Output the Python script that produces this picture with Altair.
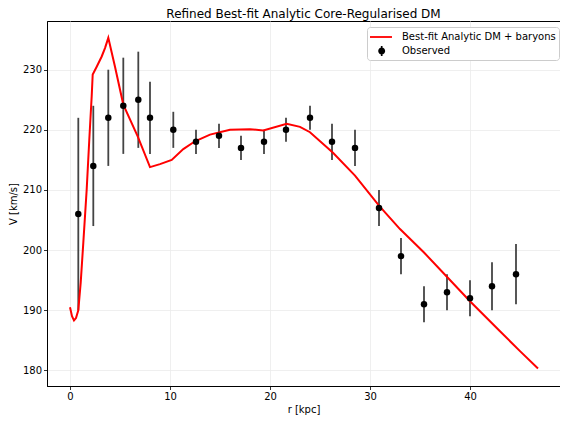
import altair as alt
import pandas as pd

# Observed rotation curve
r_obs = [0.83, 2.33, 3.83, 5.33, 6.83, 8.0, 10.33, 12.6, 14.9, 17.1, 19.4,
         21.6, 24.0, 26.2, 28.5, 30.9, 33.1, 35.4, 37.7, 40.0, 42.2, 44.6]
v_obs = [206, 214, 222, 224, 225, 222, 220, 218, 219, 217, 218,
         220, 222, 218, 217, 207, 199, 191, 193, 192, 194, 196]
v_err = [16, 10, 8, 8, 8, 6, 3, 2, 2, 2, 2,
         2, 2, 3, 3, 3, 3, 3, 3, 3, 4, 5]

# Best-fit model curve
r_model = [0, 0.2, 0.4, 0.6, 0.83, 1.07, 1.33, 1.67, 1.93, 2.17, 2.27, 2.67,
           3.17, 3.5, 3.83, 4.5, 5.33, 6.77, 8.0, 9.0, 10.17, 11.33, 12.5,
           14.0, 16.0, 18.0, 19.33, 21.67, 23.0, 24.0, 26.3, 28.5, 30.9,
           33.0, 35.4, 37.5, 40.0, 43.0, 45.0, 46.8]
v_model = [190.5, 189.0, 188.3, 188.7, 190.0, 194.6, 201.2, 210.1, 218.4,
           225.6, 229.2, 230.5, 232.2, 233.6, 235.3, 230.5, 224.2, 218.9,
           213.8, 214.3, 215.0, 216.8, 218.1, 219.2, 220.0, 220.1, 219.9,
           221.0, 220.5, 219.6, 216.2, 212.4, 207.4, 203.5, 199.6, 195.9,
           191.5, 186.5, 183.2, 180.3]

series_names = ["Best-fit Analytic DM + baryons", "Observed"]
series_colors = ["red", "black"]

obs = pd.DataFrame({"r": r_obs, "v": v_obs, "err": v_err})
obs["lo"] = obs["v"] - obs["err"]
obs["hi"] = obs["v"] + obs["err"]
obs["series"] = "Observed"
model = pd.DataFrame({"r": r_model, "v": v_model})

FONT = "DejaVu Sans"
x_scale = alt.Scale(domain=[-2.3, 49.0], nice=False, zero=False)
y_scale = alt.Scale(domain=[177.4, 238.1], nice=False, zero=False)

x_enc = alt.X("r:Q", scale=x_scale, title="r [kpc]",
              axis=alt.Axis(values=[0, 10, 20, 30, 40], titlePadding=3))
y_enc = alt.Y("v:Q", scale=y_scale, title="V [km/s]",
              axis=alt.Axis(values=[180, 190, 200, 210, 220, 230], titlePadding=4))

line_path = "M-1,-0.13H2.14V0.13H-1Z"
obs_path = ("M0.17,0A0.5,0.5 0 1,1 1.17,0A0.5,0.5 0 1,1 0.17,0Z"
            "M0.55,-0.72H0.79V-0.4H0.55Z M0.55,0.4H0.79V0.72H0.55Z")

legend = alt.Legend(orient="none", legendX=320, legendY=6, title=None, padding=3,
                    strokeColor="#cccccc", fillColor="white", cornerRadius=3,
                    labelFontSize=10, labelFont=FONT, labelColor="black",
                    symbolSize=196, labelOffset=18, rowPadding=2,
                    symbolStrokeWidth=0, symbolOpacity=1)

bars = alt.Chart(obs).mark_rule(color="#444444", strokeWidth=1.8).encode(
    x=x_enc, y=alt.Y("lo:Q", scale=y_scale), y2="hi:Q")

line = alt.Chart(model).mark_line(color="red", strokeWidth=2).encode(
    x=x_enc, y=y_enc)

points = alt.Chart(obs).mark_point(filled=True, size=42, opacity=1,
                                   color="black", shape="circle").encode(
    x=x_enc, y=y_enc)

# invisible layer carrying the legend
legend_layer = alt.Chart(obs).mark_point(filled=True, opacity=0).encode(
    x=x_enc, y=y_enc,
    color=alt.Color("series:N",
                    scale=alt.Scale(domain=series_names, range=series_colors),
                    legend=legend),
    shape=alt.Shape("series:N",
                    scale=alt.Scale(domain=series_names, range=[line_path, obs_path]),
                    legend=legend))

chart = alt.layer(bars, line, points, legend_layer).properties(
    width=513, height=365,
    title=alt.Title("Refined Best-fit Analytic Core-Regularised DM",
                    fontSize=12, fontWeight="normal", font=FONT,
                    color="black", anchor="middle", offset=0),
    autosize=alt.AutoSizeParams(type="none"),
    padding={"left": 39, "top": 13, "right": 0, "bottom": 30},
).configure_view(stroke="black", strokeWidth=1).configure_axis(
    labelFont=FONT, titleFont=FONT, labelFontSize=10, titleFontSize=10,
    labelColor="black", titleColor="black", titleFontWeight="normal",
    grid=True, gridColor="#ebebeb", gridWidth=0.8,
    domainColor="black", domainWidth=1,
    tickColor="black", tickSize=3.5, tickWidth=0.8, labelPadding=2,
)

chart.save("out.html", embed_options={"renderer": "svg", "actions": False})
